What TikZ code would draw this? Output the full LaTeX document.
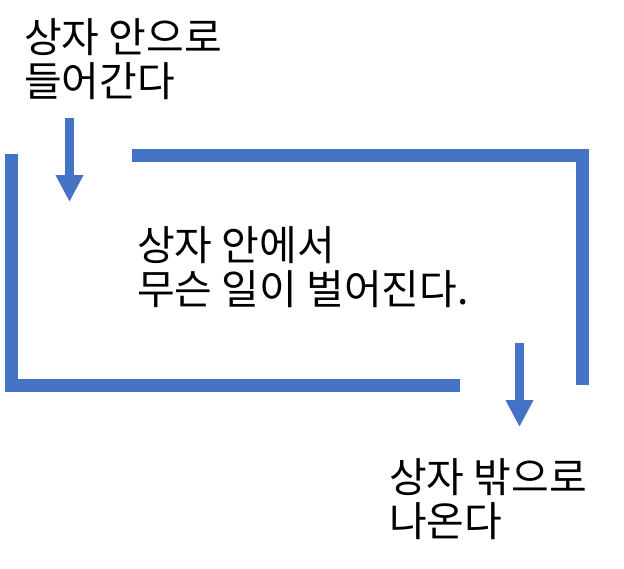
\documentclass[tikz,border=0pt]{standalone}
\usepackage{fontspec}
\setmainfont{Noto Sans CJK KR}
\usetikzlibrary{arrows.meta}
\definecolor{boxblue}{RGB}{68,114,196}
\tikzset{
  wall/.style={draw=boxblue, line width=13pt, line cap=butt, line join=miter},
  flow/.style={draw=boxblue, line width=9pt, line cap=butt, -{Triangle[width=26pt,length=27pt]}},
  label/.style={anchor=north west, inner sep=0pt, align=left, font=\fontsize{41}{44}\selectfont}
}
\begin{document}
\begin{tikzpicture}[x=1pt,y=-1pt]
\useasboundingbox (0,0) rectangle (624,568);
% walls
\draw[wall] (11.5,154) -- (11.5,385.5) -- (460,385.5);
\draw[wall] (132,155.5) -- (582.5,155.5) -- (582.5,385);
% arrows
\coordinate (a1s) at (69.5,118);
\coordinate (a1e) at (69.5,202);
\coordinate (a2s) at (519.5,343);
\coordinate (a2e) at (519.5,427);
\draw[flow] (a1s) -- (a1e);
\draw[flow] (a2s) -- (a2e);
% texts
\node[label] (t1) at (24,18) {상자 안으로\\들어간다};
\node[label] (t2) at (137,226) {상자 안에서\\무슨 일이 벌어진다.};
\node[label] (t3) at (389,458) {상자 밖으로\\나온다};
\end{tikzpicture}
\end{document}
